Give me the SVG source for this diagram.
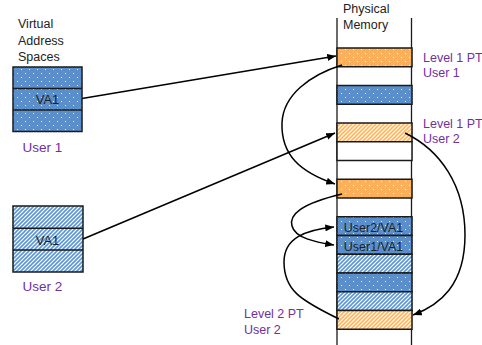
<svg xmlns="http://www.w3.org/2000/svg" width="482" height="345" viewBox="0 0 482 345">
<style>
.t{font-family:"Liberation Sans",Arial,sans-serif;fill:#222}
.p{font-family:"Liberation Sans",Arial,sans-serif;fill:#7030A0}
.box{stroke:#1a1a1a;stroke-width:1.5}
.vl{stroke:#1a1a1a;stroke-width:1.3;fill:none}
.c{fill:none;stroke:#000;stroke-width:1.5;marker-end:url(#ah)}
</style>
<defs>
<marker id="ah" viewBox="0 0 10 8" refX="10" refY="4" markerWidth="9" markerHeight="7" markerUnits="userSpaceOnUse" orient="auto">
<path d="M0,0 L10,4 L0,8 z" fill="#000"/>
</marker>
<pattern id="dotB" width="8" height="8" patternUnits="userSpaceOnUse">
<rect width="8" height="8" fill="#5B8FCB"/>
<rect x="1" y="1" width="1" height="1" fill="#e8f0fa"/>
<rect x="5" y="5" width="1" height="1" fill="#e8f0fa"/>
</pattern>
<pattern id="dotO" width="8" height="8" patternUnits="userSpaceOnUse">
<rect width="8" height="8" fill="#FCB05A"/>
<rect x="1" y="1" width="1" height="1" fill="#fff3e0"/>
<rect x="5" y="5" width="1" height="1" fill="#fff3e0"/>
</pattern>
<pattern id="hatB" width="4" height="4" patternUnits="userSpaceOnUse">
<rect width="4" height="4" fill="#fff"/>
<path d="M-1,1 L1,-1 M0,4 L4,0 M3,5 L5,3" stroke="#5E95D3" stroke-width="1.6"/>
</pattern>
<pattern id="hatO" width="4" height="4" patternUnits="userSpaceOnUse">
<rect width="4" height="4" fill="#fff"/>
<path d="M-1,1 L1,-1 M0,4 L4,0 M3,5 L5,3" stroke="#FBB664" stroke-width="1.6"/>
</pattern>
</defs>

<g id="label-vas">
<text class="t" x="18" y="28" font-size="12.5">Virtual</text>
<text class="t" x="18" y="45" font-size="12.5">Address</text>
<text class="t" x="18" y="61" font-size="12.5">Spaces</text>
</g>

<g id="user1-space">
<rect class="box" x="13" y="67" width="69" height="64.5" fill="url(#dotB)"/>
<line class="box" x1="13" y1="88.5" x2="82" y2="88.5"/>
<line class="box" x1="13" y1="110" x2="82" y2="110"/>
<text class="t" x="47.5" y="104" font-size="13" text-anchor="middle">VA1</text>
<text class="p" x="22.5" y="152" font-size="13.5">User 1</text>
</g>

<g id="user2-space">
<rect class="box" x="13" y="206" width="70" height="66" fill="url(#hatB)"/>
<line class="box" x1="13" y1="228.3" x2="83" y2="228.3"/>
<line class="box" x1="13" y1="250" x2="83" y2="250"/>
<text class="t" x="47.5" y="245" font-size="13" text-anchor="middle">VA1</text>
<text class="p" x="22.5" y="291" font-size="13.5">User 2</text>
</g>

<g id="physical-memory">
<text class="t" x="343" y="13" font-size="12.5">Physical</text>
<text class="t" x="343" y="29" font-size="12.5">Memory</text>
<line class="vl" x1="337" y1="18" x2="337" y2="345"/>
<line class="vl" x1="411.5" y1="18" x2="411.5" y2="345"/>
</g>

<g id="pm-slot0"><rect class="box" x="337" y="48" width="75" height="18.75" fill="url(#dotO)"/></g>
<g id="pm-slot2"><rect class="box" x="337" y="85.5" width="75" height="18.75" fill="url(#dotB)"/></g>
<g id="pm-slot4"><rect class="box" x="337" y="123" width="75" height="18.75" fill="url(#hatO)"/></g>
<g id="pm-slot5"><rect class="box" x="337" y="141.75" width="75" height="18.75" fill="#fff"/></g>
<g id="pm-slot7"><rect class="box" x="337" y="179.25" width="75" height="18.75" fill="url(#dotO)"/></g>
<g id="pm-slot9"><rect class="box" x="337" y="216.75" width="75" height="18.75" fill="url(#dotB)"/>
<text class="t" x="373.5" y="232" font-size="12.5" text-anchor="middle">User2/VA1</text></g>
<g id="pm-slot10"><rect class="box" x="337" y="235.5" width="75" height="18.75" fill="url(#dotB)"/>
<text class="t" x="373.5" y="250.8" font-size="12.5" text-anchor="middle">User1/VA1</text></g>
<g id="pm-slot11"><rect class="box" x="337" y="254.25" width="75" height="18.75" fill="url(#hatB)"/></g>
<g id="pm-slot12"><rect class="box" x="337" y="273" width="75" height="18.75" fill="url(#dotB)"/></g>
<g id="pm-slot13"><rect class="box" x="337" y="291.75" width="75" height="18.75" fill="url(#hatB)"/></g>
<g id="pm-slot14"><rect class="box" x="337" y="310.5" width="75" height="18.75" fill="url(#hatO)"/></g>

<g id="label-l1pt-u1">
<text class="p" x="423" y="62" font-size="12.5">Level 1 PT</text>
<text class="p" x="423" y="77" font-size="12.5">User 1</text>
</g>
<g id="label-l1pt-u2">
<text class="p" x="423" y="128" font-size="12.5">Level 1 PT</text>
<text class="p" x="423" y="143" font-size="12.5">User 2</text>
</g>
<g id="label-l2pt-u2">
<text class="p" x="244" y="318" font-size="12.5">Level 2 PT</text>
<text class="p" x="244" y="334" font-size="12.5">User 2</text>
</g>

<g id="connectors">
<path class="c" d="M82,98.5 L336,56"/>
<path class="c" d="M83,239 L335,133"/>
<path class="c" d="M342,65 C310,75 283,95 282,123 C281,155 300,172 335,184"/>
<path class="c" d="M342,194 C300,204 289,215 292,226 C295,238 315,242 334,245"/>
<path class="c" d="M339,319 C300,300 284,290 284,262 C284,238 305,230 334,227"/>
<path class="c" d="M405,133 C440,150 465,185 465,235 C465,285 440,305 413,315"/>
</g>
</svg>
